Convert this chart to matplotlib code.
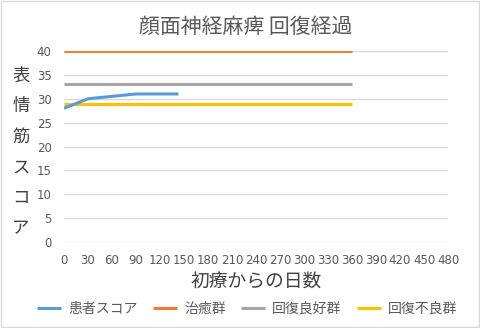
import numpy as np
import matplotlib
matplotlib.use("Agg")
import matplotlib.pyplot as plt
from matplotlib.patches import Rectangle

plt.rcParams["font.family"] = ["Noto Sans CJK JP", "DejaVu Sans"]

# data
patient_days = [0, 30, 60, 90, 120, 143]
patient_score = [28, 30, 30.5, 31, 31, 31]
ref_days = [0, 360]
cured = [40, 40]
good = [33, 33]
poor = [29, 29]

x_ticks = list(range(0, 481, 30))
y_ticks = list(range(0, 41, 5))

title = "顔面神経麻痺 回復経過"
x_label = "初療からの日数"
y_label = "表情筋スコア"
names = ["患者スコア", "治癒群", "回復良好群", "回復不良群"]
colors = ["#5B9BD5", "#ED7D31", "#A5A5A5", "#FFC000"]

fig = plt.figure(figsize=(4.8, 3.28), dpi=100)
ax = fig.add_axes([64 / 480, 1 - 242 / 328, 384 / 480, 191 / 328])

lw = 2.2
ax.plot(patient_days, patient_score, color=colors[0], lw=lw, label=names[0],
        solid_capstyle="butt", zorder=5)
ax.plot(ref_days, cured, color=colors[1], lw=lw, label=names[1], solid_capstyle="butt")
ax.plot(ref_days, good, color=colors[2], lw=lw, label=names[2], solid_capstyle="butt")
ax.plot(ref_days, poor, color=colors[3], lw=lw, label=names[3], solid_capstyle="butt")

ax.set_xlim(0, 480)
ax.set_ylim(0, 40)
ax.set_xticks(x_ticks)
ax.set_yticks(y_ticks)
ax.grid(axis="y", color="#D9D9D9", lw=1)
ax.set_axisbelow(True)
for s in ax.spines.values():
    s.set_visible(False)
ax.tick_params(length=0, labelsize=8.5, labelcolor="#595959")
ax.tick_params(axis="x", pad=9)
ax.tick_params(axis="y", pad=9)
for lab in ax.get_xticklabels() + ax.get_yticklabels():
    lab.set_fontfamily("DejaVu Sans")

fig.text(246 / 480, 1 - 27 / 328, title, fontsize=15, color="#595959",
         ha="center", va="center")
ax.set_xlabel(x_label, fontsize=13.5, color="#404040", labelpad=3)

# vertical stacked y label
y0 = 76
for i, ch in enumerate(y_label):
    fig.text(21 / 480, 1 - (y0 + i * 30.4) / 328, ch, fontsize=12.5,
             color="#404040", ha="center", va="center")

fig.legend(loc="center", bbox_to_anchor=(0.515, 1 - 309 / 328), ncol=4,
           frameon=False, fontsize=10, handlelength=1.75, handletextpad=0.5,
           columnspacing=1.1, labelcolor="#595959")

fig.patches.append(Rectangle((0.002, 0.003), 0.996, 0.994, transform=fig.transFigure,
                             fill=False, edgecolor="#D9D9D9", lw=1))

fig.savefig("out.png", dpi=100)
